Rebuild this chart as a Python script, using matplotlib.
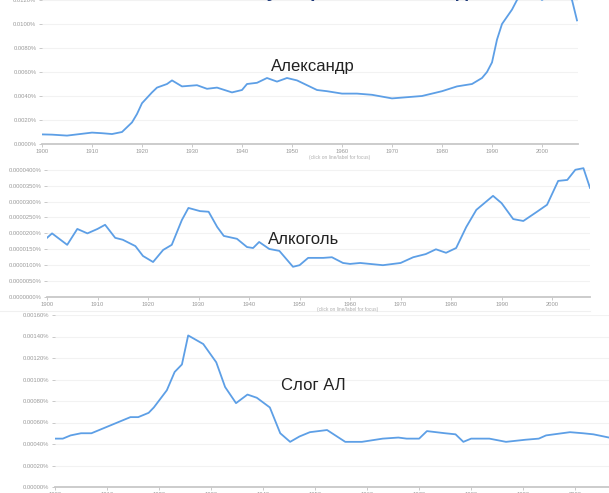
"""
Three Google-Ngram-style panels stacked on one slide:
Александр, Алкоголь, Слог АЛ (frequency in %, 1900-2007).
"""
import matplotlib

matplotlib.use("Agg")
import matplotlib.pyplot as plt
from matplotlib.ticker import FixedLocator, FuncFormatter

# --- data (values in percent) -------------------------------------------------
alex_years = [1900, 1902, 1905, 1908, 1910, 1912, 1914, 1916, 1918, 1919, 1920,
              1922, 1923, 1925, 1926, 1928, 1931, 1933, 1935, 1938, 1940, 1941,
              1943, 1945, 1947, 1949, 1951, 1953, 1955, 1957, 1960, 1963, 1966,
              1970, 1973, 1976, 1980, 1983, 1986, 1988, 1989, 1990, 1991, 1992,
              1994, 1995, 1997, 1999, 2000, 2002, 2004, 2006, 2007]
alex_vals = [0.0008, 0.00078, 0.0007, 0.00085, 0.00095, 0.0009, 0.00083, 0.001,
             0.0018, 0.0025, 0.0034, 0.0043, 0.0047, 0.0050, 0.0053, 0.0048,
             0.0049, 0.0046, 0.0047, 0.0043, 0.0045, 0.0050, 0.0051, 0.0055,
             0.0052, 0.0055, 0.0053, 0.0049, 0.0045, 0.0044, 0.0042, 0.0042,
             0.0041, 0.0038, 0.0039, 0.0040, 0.0044, 0.0048, 0.0050, 0.0055,
             0.0060, 0.0068, 0.0087, 0.0100, 0.0112, 0.0120, 0.0128, 0.0124,
             0.0120, 0.0126, 0.0128, 0.0120, 0.0103]

alco_years = [1900, 1901, 1904, 1906, 1908, 1910, 1911.5, 1913.5, 1915, 1917.5,
              1919, 1921, 1923, 1924.7, 1926.7, 1928, 1930.3, 1932, 1933.7, 1935,
              1937.6, 1939.6, 1940.8, 1942, 1944, 1946, 1948.7, 1950, 1951.7,
              1954.7, 1956.4, 1958.6, 1960, 1962, 1966.5, 1970, 1972.5, 1975,
              1977, 1979, 1981, 1983, 1985, 1988.3, 1990, 1992.3, 1994.3, 1997,
              1999, 2001.2, 2003, 2004.6, 2006.2, 2007.5]
alco_vals = [0.0000186, 0.0000200, 0.0000164, 0.0000214, 0.0000200, 0.0000214,
             0.0000227, 0.0000186, 0.0000180, 0.0000160, 0.0000129, 0.0000110,
             0.0000148, 0.0000164, 0.0000242, 0.0000280, 0.0000270, 0.0000268,
             0.0000220, 0.0000192, 0.0000183, 0.0000157, 0.0000154, 0.0000173,
             0.0000151, 0.0000145, 0.0000095, 0.0000100, 0.0000123, 0.0000123,
             0.0000125, 0.0000107, 0.0000104, 0.0000107, 0.0000100, 0.0000107,
             0.0000125, 0.0000135, 0.0000150, 0.0000139, 0.0000154, 0.0000220,
             0.0000274, 0.0000318, 0.0000295, 0.0000245, 0.0000239, 0.0000268,
             0.0000290, 0.0000365, 0.0000368, 0.0000400, 0.0000405, 0.0000343]

syl_years = [1900, 1901.5, 1903, 1905, 1907, 1909, 1912, 1914.5, 1916, 1918,
             1919, 1921.5, 1923, 1924.4, 1925.6, 1928.5, 1931, 1932.7, 1934.8,
             1937, 1938.8, 1941.3, 1943.3, 1945.2, 1947, 1949, 1952.3, 1955.8,
             1959, 1963, 1966, 1967.6, 1970, 1971.5, 1975, 1977, 1978.5, 1980,
             1983.5, 1986.7, 1990.5, 1993, 1994.4, 1999, 2001.5, 2003.5, 2006.5]
syl_vals = [0.00045, 0.00045, 0.00048, 0.00050, 0.00050, 0.00054, 0.00060,
            0.00065, 0.00065, 0.00069, 0.00074, 0.00090, 0.00107, 0.00114,
            0.00141, 0.00133, 0.00116, 0.00093, 0.00078, 0.00086, 0.00083,
            0.00074, 0.00050, 0.00042, 0.00047, 0.00051, 0.00053, 0.00042,
            0.00042, 0.00045, 0.00046, 0.00045, 0.00045, 0.00052, 0.00050,
            0.00049, 0.00042, 0.00045, 0.00045, 0.00042, 0.00044, 0.00045,
            0.00048, 0.00051, 0.00050, 0.00049, 0.00046]

decades = list(range(1900, 2010, 10))
labels = ["Александр", "Алкоголь", "Слог АЛ"]

W, H = 609, 493
LINE = "#5d9fe6"
GREY = "#9a9a9a"


def panel(fig, px_left, px_right, px_top, px_bottom, xmax, ymax, yticks, ndec):
    ax = fig.add_axes([px_left / W, 1 - px_bottom / H,
                       (px_right - px_left) / W, (px_bottom - px_top) / H])
    ax.set_xlim(1900, xmax)
    ax.set_ylim(0, ymax)
    for s in ("top", "right", "left"):
        ax.spines[s].set_visible(False)
    ax.spines["bottom"].set_color("#c8c8c8")
    ax.spines["bottom"].set_linewidth(1.3)
    ax.xaxis.set_major_locator(FixedLocator(decades))
    ax.yaxis.set_major_locator(FixedLocator(yticks))
    ax.yaxis.set_major_formatter(FuncFormatter(lambda v, _: f"{v:.{ndec}f}%"))
    ax.tick_params(axis="both", labelsize=4.2, colors="#c0c0c0",
                   labelcolor=GREY, length=2.5, width=0.6, pad=1.5)
    ax.tick_params(axis="x", pad=0.8)
    ax.grid(axis="y", color="#f2f2f2", lw=0.8)
    ax.set_axisbelow(True)
    return ax


plt.rcParams["font.family"] = ["Liberation Sans", "DejaVu Sans"]
fig = plt.figure(figsize=(W / 100, H / 100), dpi=100)

# cut-off slide title: only its descenders peek in at the very top
fig.text(0.52, 1.016, "Частотность употребления по годам", ha="center",
         va="center", fontsize=14, color="#1f3a7a", fontweight="bold")

ax1 = panel(fig, 42, 578, 0, 144, 2007.2, 0.012,
            [0, 0.002, 0.004, 0.006, 0.008, 0.010, 0.012], 4)
ax1.plot(alex_years, alex_vals, color=LINE, lw=1.3, solid_joinstyle="round")

ax2 = panel(fig, 47, 590, 165, 297, 2007.5, 0.0000415,
            [i * 0.000005 for i in range(9)], 7)
ax2.plot(alco_years, alco_vals, color=LINE, lw=1.3, solid_joinstyle="round")

ax3 = panel(fig, 55, 609, 315, 487, 2006.5, 0.0016,
            [i * 0.0002 for i in range(9)], 5)
ax3.plot(syl_years, syl_vals, color=LINE, lw=1.3, solid_joinstyle="round")

for lab, (x, y) in zip(labels, [(313, 67), (304, 240), (313, 385)]):
    fig.text(x / W, 1 - y / H, lab, fontsize=12, color="#222222",
             ha="center", va="center")

for x, y in [(340, 157), (348, 310)]:
    fig.text(x / W, 1 - y / H, "(click on line/label for focus)", fontsize=3.5,
             color="#b0b0b0", ha="center", va="center")
fig.add_artist(plt.Line2D([0, 590 / W], [1 - 311 / H] * 2, color="#f0f0f0", lw=0.8))

fig.savefig("out.png", dpi=100)
